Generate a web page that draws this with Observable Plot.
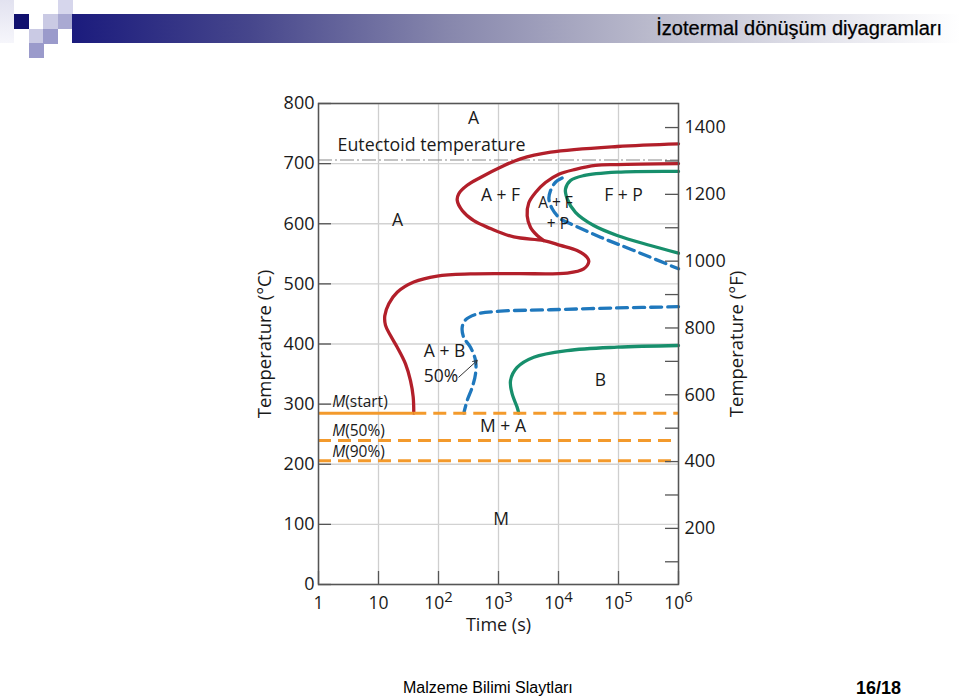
<!DOCTYPE html>
<html><head><meta charset="utf-8">
<script src="https://cdn.jsdelivr.net/npm/d3@7"></script>
<script src="https://cdn.jsdelivr.net/npm/@observablehq/plot@0.6"></script>
<style>
html,body{margin:0;padding:0;background:#fff;width:960px;height:699px;overflow:hidden;}
body{position:relative;}
#chart{position:absolute;left:0;top:0;}
.sq{position:absolute;width:15px;height:15px;}
#bar{position:absolute;left:72px;top:14px;width:888px;height:29px;background:linear-gradient(to right,#1b1b7d 0%,#46468c 20%,#8686ac 42%,#babacc 65%,#e4e4ec 85%,#ffffff 100%);}
#title{position:absolute;right:18px;top:17px;font:20px "Liberation Sans",Arial,sans-serif;color:#000;white-space:nowrap;-webkit-text-stroke:0.25px #000;}
#foot1{position:absolute;left:403px;top:679px;font:16px "Liberation Sans",Arial,sans-serif;color:#000;white-space:nowrap;}
#foot2{position:absolute;right:59px;top:678px;font:bold 18px "Liberation Sans",Arial,sans-serif;color:#000;white-space:nowrap;}
</style></head>
<body>
<div class="sq" style="left:0;top:0;width:14px;height:43px;background:linear-gradient(to bottom,#e2e2f0,#f6f6fb);"></div>
<div class="sq" style="left:14px;top:14px;background:#10106e;"></div>
<div class="sq" style="left:43px;top:14px;background:#cacae4;"></div>
<div class="sq" style="left:58px;top:0px;background:#d6d6ec;"></div>
<div class="sq" style="left:58px;top:14px;background:#a9a9d2;"></div>
<div class="sq" style="left:29px;top:29px;background:#cacae4;"></div>
<div class="sq" style="left:43px;top:29px;background:#9a9acb;"></div>
<div class="sq" style="left:29px;top:43px;background:#9a9acb;"></div>
<div id="bar"></div>
<div id="title">İzotermal dönüşüm diyagramları</div>
<div id="chart"></div>
<div id="foot1">Malzeme Bilimi Slaytları</div>
<div id="foot2">16/18</div>
<script>
// ---- data (time as log10 seconds, temperature in °C) ----
const decades = [0, 1, 2, 3, 4, 5, 6];
const tempTicksC = [0, 100, 200, 300, 400, 500, 600, 700, 800];
const tempLabelsF = [200, 400, 600, 800, 1000, 1200, 1400];
const tempTicksF = [100, 200, 300, 400, 500, 600, 700, 800, 900, 1000, 1100, 1200, 1300, 1400];

const redOuter = [[6,733],[4.98,728.5],[3.87,719],[3.367,708],[3.033,694],[2.7,677],[2.478,664],[2.338,650],[2.312,639],[2.395,622],[2.588,605],[2.867,592],[3.255,578],[3.755,572],[4.033,564],[4.31,555.5],[4.478,544],[4.505,537],[4.42,525],[4.145,518],[3.31,517],[2.533,516.5],[1.978,513],[1.588,503],[1.312,486],[1.172,467],[1.105,447],[1.117,431],[1.2,414],[1.31,395],[1.45,367],[1.533,339],[1.578,312],[1.588,285]];
const redInner = [[6,700],[4.98,698.5],[4.617,697],[4.283,690.5],[4.005,682.4],[3.783,668.5],[3.617,652],[3.505,635],[3.478,613],[3.533,594],[3.645,580.5],[3.755,572]];
const blueUpper = [[4.06,676],[3.95,669],[3.867,655],[3.84,641.5],[3.895,625],[4.033,608],[4.2,600],[4.7,577.6],[5.255,555.5],[6,525]];
const greenUpper = [[6,687],[4.978,685.7],[4.417,680],[4.2,672],[4.117,658],[4.145,641.5],[4.283,619],[4.588,597],[4.978,580.5],[5.533,563.8],[6,551]];
const blueLower = [[6,462],[4.978,460],[3.867,457],[3.033,454.6],[2.645,450],[2.45,440],[2.395,428],[2.42,411],[2.533,394.7],[2.617,372.6],[2.617,350.4],[2.562,328],[2.478,306],[2.422,285]];
const greenLower = [[6,397.5],[4.978,394.7],[4.145,389],[3.588,378],[3.31,361],[3.2,339],[3.228,317],[3.31,295],[3.338,285]];

const eutectoidT = 706;
const mStartT = 285;
const mStartSolidEnd = 1.588;
const mDashedT = [239.5, 206];

const regionLabels = [
  {text: "A", e: 2.583, t: 775, size: 17.5},
  {text: "A", e: 1.317, t: 605, size: 17.5},
  {text: "A + F", e: 3.033, t: 647, size: 17.5},
  {text: "A + F", e: 3.95, t: 635, size: 15.5},
  {text: "+ P", e: 3.99, t: 600, size: 15.5},
  {text: "F + P", e: 5.083, t: 647, size: 17.5},
  {text: "A + B", e: 2.1, t: 388, size: 17.5},
  {text: "50%", e: 2.04, t: 346.5, size: 17.5},
  {text: "M + A", e: 3.075, t: 263, size: 17.5},
  {text: "B", e: 4.7, t: 339, size: 17.5},
  {text: "M", e: 3.045, t: 107.6, size: 17.5}
];
const mLabels = [
  {m: "M", rest: "(start)", e: 0.228, t: 303},
  {m: "M", rest: "(50%)", e: 0.228, t: 256},
  {m: "M", rest: "(90%)", e: 0.228, t: 221}
];
const eutectoidLabel = {text: "Eutectoid temperature", e: 0.317, t: 730};
const arrow50 = [{e1: 2.338, t1: 344.8, e2: 2.645, t2: 372.6}];

// ---- helpers ----
const fToC = f => (f - 32) * 5 / 9;
const cToF = c => c * 9 / 5 + 32;
const X = d => 10 ** d[0];
const Y = d => d[1];

const RED = "#b21f2a", GREEN = "#178f6c", BLUE = "#1f78bd", ORANGE = "#f39a2c";

const chart = Plot.plot({
  width: 960,
  height: 699,
  marginLeft: 318,
  marginRight: 282,
  marginTop: 103,
  marginBottom: 115,
  style: {fontFamily: "'Open Sans', 'Noto Sans', sans-serif", fontSize: "18px", color: "#1a1a1a", background: "transparent", overflow: "visible"},
  x: {type: "log", domain: [1, 1e6]},
  y: {domain: [0, 800]},
  marks: [
    Plot.ruleX(decades, {x: d => 10 ** d, stroke: "#cfcfcf", strokeWidth: 1.3}),
    Plot.ruleY(tempTicksC, {y: d => d, stroke: "#d2d2d2", strokeWidth: 1.3}),
    Plot.ruleY([eutectoidT], {y: d => d, stroke: "#8a8a8a", strokeWidth: 1.2, strokeDasharray: "14,3,2,3"}),
    Plot.line(redOuter, {x: X, y: Y, stroke: RED, strokeWidth: 3.3, curve: "catmull-rom"}),
    Plot.line(redInner, {x: X, y: Y, stroke: RED, strokeWidth: 3.3, curve: "catmull-rom"}),
    Plot.line(greenUpper, {x: X, y: Y, stroke: GREEN, strokeWidth: 3.3, curve: "catmull-rom"}),
    Plot.line(greenLower, {x: X, y: Y, stroke: GREEN, strokeWidth: 3.3, curve: "catmull-rom"}),
    Plot.line(blueUpper, {x: X, y: Y, stroke: BLUE, strokeWidth: 3.3, strokeDasharray: "11,6", curve: "catmull-rom"}),
    Plot.line(blueLower, {x: X, y: Y, stroke: BLUE, strokeWidth: 3.3, strokeDasharray: "11,6", curve: "catmull-rom"}),
    Plot.ruleY([mStartT], {y: d => d, x1: 1, x2: 10 ** mStartSolidEnd, stroke: ORANGE, strokeWidth: 3}),
    Plot.ruleY([mStartT], {y: d => d, x1: 10 ** mStartSolidEnd, x2: 1e6, stroke: ORANGE, strokeWidth: 3, strokeDasharray: "13,7"}),
    Plot.ruleY(mDashedT, {y: d => d, stroke: ORANGE, strokeWidth: 3, strokeDasharray: "13,7"}),
    Plot.frame({stroke: "#555", strokeWidth: 1.5}),
    Plot.tickY(tempTicksC, {y: d => d, insetRight: 347, stroke: "#555", strokeWidth: 1.3}),
    Plot.tickY(tempTicksF.map(fToC), {y: d => d, insetLeft: 347, stroke: "#555", strokeWidth: 1.3}),
    Plot.tickX(decades, {x: d => 10 ** d, insetTop: 468, stroke: "#555", strokeWidth: 1.3}),
    Plot.axisX(decades.map(d => 10 ** d), {tickSize: 0, tickPadding: 12, fontSize: 17.5, label: null,
      tickFormat: v => { const e = Math.round(Math.log10(v)); return e === 0 ? "1" : e === 1 ? "10" : "10^" + e; }}),
    Plot.axisY(tempTicksC, {anchor: "left", tickSize: 0, tickPadding: 4, fontSize: 18, label: null}),
    Plot.axisY(tempLabelsF.map(fToC), {anchor: "right", tickSize: 0, tickPadding: 6, fontSize: 18, label: null,
      tickFormat: c => String(Math.round(cToF(c)))}),
    Plot.text(["Temperature (°C)"], {frameAnchor: "left", dx: -53, rotate: -90, textAnchor: "middle", lineAnchor: "middle", fontSize: 18.5}),
    Plot.text(["Temperature (°F)"], {frameAnchor: "right", dx: 59, rotate: -90, textAnchor: "middle", lineAnchor: "middle", fontSize: 18.5}),
    Plot.text(["Time (s)"], {frameAnchor: "bottom", dy: 41, textAnchor: "middle", lineAnchor: "middle", fontSize: 18}),
    Plot.text([eutectoidLabel], {x: d => 10 ** d.e, y: d => d.t, text: "text", textAnchor: "start", fontSize: 17.8}),
    Plot.text(regionLabels, {x: d => 10 ** d.e, y: d => d.t, text: "text", fontSize: d => d.size}),
    Plot.text(mLabels, {x: d => 10 ** d.e, y: d => d.t, text: "m", textAnchor: "start", fontStyle: "italic", fontSize: 15.5}),
    Plot.text(mLabels, {x: d => 10 ** d.e, y: d => d.t, text: "rest", textAnchor: "start", dx: 13, fontSize: 15.5}),
    Plot.arrow(arrow50, {x1: d => 10 ** d.e1, y1: "t1", x2: d => 10 ** d.e2, y2: "t2", stroke: "#333", strokeWidth: 1, headLength: 7})
  ]
});
document.getElementById("chart").appendChild(chart);
// render exponent superscripts as real raised text
chart.querySelectorAll("text").forEach(t => {
  const m = /^10\^(\d)$/.exec(t.textContent);
  if (m) {
    t.textContent = "10";
    const ts = document.createElementNS("http://www.w3.org/2000/svg", "tspan");
    ts.setAttribute("dy", "-0.45em");
    ts.setAttribute("font-size", "0.85em");
    ts.textContent = m[1];
    t.appendChild(ts);
  }
});
</script>
</body></html>
